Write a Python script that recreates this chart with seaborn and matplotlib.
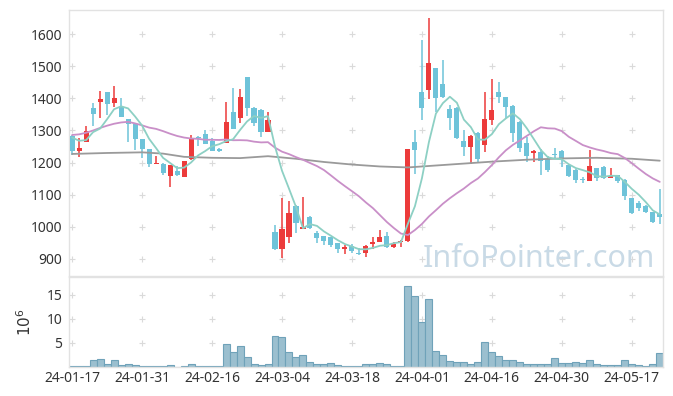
import numpy as np
import pandas as pd
import matplotlib
matplotlib.use("Agg")
import matplotlib.pyplot as plt
import seaborn as sns

# trading days (KRX holidays removed)
holidays = ["2024-02-09", "2024-02-12", "2024-03-01", "2024-04-10",
            "2024-05-01", "2024-05-06", "2024-05-15"]
dates = pd.bdate_range("2024-01-17", "2024-05-23")
dates = dates[~dates.isin(pd.to_datetime(holidays))]

opens = [1282, 1236, 1265, 1369, 1390, 1420, 1385, 1374, 1335, 1319,
         1272, 1241, 1195, 1196, 1158, 1175, 1155, 1210, 1280, 1289,
         1266, 1243, 1262, 1356, 1338, 1465, 1371, 1364, 1296, 984,
         930, 967, 1066, 993, 1031, 982, 972, 967, 949, 931,
         940, 918, 918, 947, 954, 971, 936, 952, 955, 1263,
         1419, 1425, 1493, 1444, 1367, 1370, 1266, 1248, 1293, 1254,
         1332, 1420, 1403, 1376, 1327, 1261, 1230, 1233, 1212, 1228,
         1235, 1193, 1177, 1147, 1144, 1182, 1185, 1153, 1161, 1146,
         1089, 1074, 1066, 1046, 1041]
highs = [1285, 1278, 1314, 1385, 1422, 1421, 1439, 1402, 1337, 1320,
         1273, 1242, 1222, 1198, 1193, 1188, 1205, 1286, 1282, 1300,
         1278, 1246, 1388, 1432, 1429, 1466, 1372, 1366, 1357, 1005,
         1089, 1082, 1068, 1092, 1033, 988, 973, 968, 950, 943,
         947, 933, 943, 967, 990, 985, 954, 960, 1241, 1300,
         1581, 1649, 1495, 1519, 1378, 1372, 1303, 1286, 1295, 1420,
         1460, 1450, 1405, 1378, 1329, 1280, 1240, 1243, 1222, 1247,
         1238, 1195, 1180, 1156, 1240, 1183, 1188, 1182, 1162, 1148,
         1090, 1079, 1067, 1047, 1118]
lows = [1225, 1217, 1264, 1314, 1338, 1348, 1374, 1343, 1264, 1238,
        1215, 1186, 1195, 1160, 1123, 1158, 1155, 1208, 1251, 1257,
        1236, 1232, 1260, 1304, 1322, 1345, 1314, 1279, 1296, 928,
        904, 949, 980, 993, 993, 949, 943, 938, 918, 915,
        918, 912, 907, 930, 952, 934, 934, 936, 952, 1165,
        1332, 1399, 1358, 1402, 1300, 1275, 1221, 1196, 1202, 1233,
        1317, 1385, 1338, 1264, 1233, 1202, 1202, 1160, 1170, 1212,
        1186, 1155, 1136, 1136, 1143, 1144, 1149, 1152, 1136, 1084,
        1041, 1048, 1043, 1012, 1010]
closes = [1236, 1247, 1298, 1351, 1398, 1382, 1402, 1343, 1319, 1272,
          1241, 1196, 1198, 1167, 1193, 1160, 1204, 1278, 1277, 1259,
          1236, 1236, 1326, 1306, 1403, 1369, 1322, 1296, 1333, 930,
          993, 1043, 1011, 1001, 995, 965, 957, 943, 931, 936,
          926, 917, 940, 954, 969, 936, 947, 957, 1241, 1240,
          1370, 1511, 1401, 1404, 1339, 1277, 1248, 1284, 1212, 1335,
          1364, 1403, 1374, 1291, 1246, 1220, 1235, 1205, 1177, 1223,
          1212, 1157, 1146, 1145, 1189, 1151, 1151, 1159, 1144, 1095,
          1043, 1059, 1045, 1015, 1031]
# volume in millions
volume = [0.2, 0.2, 0.2, 1.46, 1.6, 0.55, 1.46, 0.35, 0.55, 0.35,
          0.15, 0.15, 0.15, 0.15, 0.35, 0.02, 0.15, 0.55, 0.15, 0.15,
          0.15, 0.15, 4.7, 3.05, 4.3, 2.0, 0.55, 0.35, 0.55, 6.4,
          6.2, 3.05, 2.0, 2.4, 0.97, 0.55, 0.55, 0.76, 0.35, 0.15,
          0.15, 0.15, 0.55, 0.55, 0.76, 0.55, 0.15, 0.15, 16.8, 14.7,
          9.3, 14.1, 3.26, 2.43, 1.18, 0.97, 0.97, 0.55, 0.97, 5.1,
          3.05, 2.2, 1.4, 1.4, 0.97, 0.55, 0.55, 0.55, 0.55, 1.8,
          0.76, 0.76, 0.97, 0.76, 1.4, 0.55, 0.35, 0.35, 0.35, 1.4,
          0.55, 0.35, 0.15, 0.55, 2.85]

# moving averages: first values come from data before the window
ma5_start = [1278, 1268, 1270, 1295]
ma20_start = [1286, 1288, 1293, 1300, 1308, 1315, 1321, 1325, 1327, 1322,
              1316, 1309, 1305, 1298, 1290, 1283, 1278, 1275, 1274]
ma_long_idx = [0, 5, 10, 13, 16, 20, 24, 28, 32, 36, 40, 44, 48, 52,
               56, 60, 65, 70, 75, 80, 84]
ma_long_val = [1227, 1230, 1232, 1228, 1218, 1215, 1214, 1220, 1212, 1202,
               1194, 1188, 1185, 1191, 1197, 1203, 1209, 1213, 1215, 1212, 1206]

df = pd.DataFrame({"open": opens, "high": highs, "low": lows,
                   "close": closes, "volume": volume})
df["i"] = np.arange(len(df))
df["ma5"] = df["close"].rolling(5).mean()
df.loc[:3, "ma5"] = ma5_start
df["ma20"] = df["close"].rolling(20).mean()
df.loc[:18, "ma20"] = ma20_start
ma_long = pd.DataFrame({"i": ma_long_idx, "v": ma_long_val})

up_color = "#ec3b3b"
down_color = "#6ec3d9"
frame_color = "#e2e2e2"

sns.set_style("white")
plt.rcParams["font.family"] = ["Noto Sans", "DejaVu Sans"]

fig = plt.figure(figsize=(6.73, 3.96), dpi=100)
ax = fig.add_axes([0.1025, 0.303, 0.8825, 0.6717])
axv = fig.add_axes([0.1025, 0.0732, 0.8825, 0.2273], sharex=ax)

# grid is drawn as small plus signs
xt = np.arange(0, len(df), 10)
for a, yt in [(ax, np.arange(900, 1700, 100)), (axv, np.array([5, 10, 15]))]:
    gx, gy = np.meshgrid(xt, yt)
    a.scatter(gx.ravel(), gy.ravel(), marker="+", s=14, color="#dadada",
              linewidths=0.8, zorder=0)

# candles
up = df["close"] >= df["open"]
colors = np.where(up, up_color, down_color)
ax.vlines(df["i"], df["low"], df["high"], colors=colors, linewidth=1.1, zorder=2)
body_bottom = np.minimum(df["open"], df["close"])
body_h = np.maximum((df["close"] - df["open"]).abs(), 2.5)
ax.bar(df["i"], body_h, bottom=body_bottom, width=0.72, color=colors,
       linewidth=0, zorder=3)

# moving averages
sns.lineplot(data=ma_long, x="i", y="v", ax=ax, color="#9a9a9a", lw=1.3, zorder=4)
sns.lineplot(data=df, x="i", y="ma20", ax=ax, color="#c98fc8", lw=1.3, zorder=4)
sns.lineplot(data=df, x="i", y="ma5", ax=ax, color="#8dd0c4", lw=1.3, zorder=4)

ax.text(0.9865, 0.034, "InfoPointer.com", transform=ax.transAxes, ha="right",
        va="baseline", fontsize=22, color="#c9dae6", zorder=1)

ax.set_ylim(847, 1675)
ax.set_yticks(np.arange(900, 1700, 100))
ax.set_xlim(-0.45, len(df) - 0.55)
ax.set_xlabel("")
ax.set_ylabel("")
ax.tick_params(axis="x", labelbottom=False, length=0)
ax.tick_params(axis="y", length=0, labelsize=10, labelcolor="#333333", pad=5)

# volume
axv.bar(df["i"], df["volume"], width=1.0, color="#9bbfcf",
        edgecolor="#6fa2b9", linewidth=0.8, zorder=2)
axv.set_ylim(0, 18.7)
axv.set_yticks([5, 10, 15])
axv.set_ylabel(r"$10^{6}$", fontsize=11, color="#333333", labelpad=8)
axv.set_xticks(xt)
axv.set_xticklabels([dates[k].strftime("%y-%m-%d") for k in xt])
axv.tick_params(axis="x", length=0, labelsize=10, labelcolor="#333333", pad=3)
axv.tick_params(axis="y", length=0, labelsize=10, labelcolor="#333333", pad=5)

for a in (ax, axv):
    for s in a.spines.values():
        s.set_color(frame_color)
        s.set_linewidth(1.0)

fig.savefig("out.png", dpi=100)
